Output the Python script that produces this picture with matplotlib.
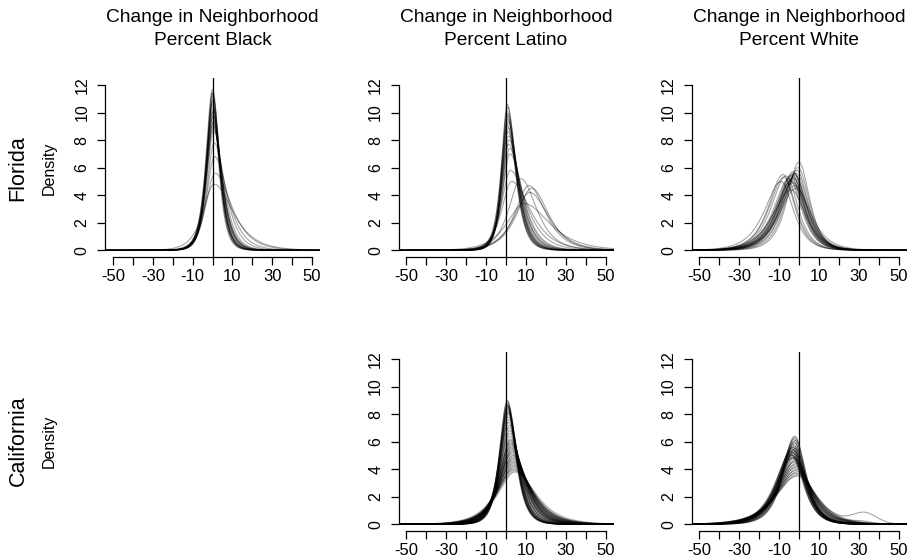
import numpy as np
import matplotlib
matplotlib.use('Agg')
import matplotlib.pyplot as plt

plt.rcParams['font.family'] = ['Liberation Sans', 'DejaVu Sans']

# ---- curve parameters: peak position, peak height, right/left spread ----
fl_black_center = [0.0, 0.2, -0.2, 0.1, 0.3, 0.0, -0.1, 0.2, 0.4, 0.0,
                   0.3, 0.1, 0.5, 0.2, 0.4, 0.6, 0.8, 1.0, 1.2, 0.8]
fl_black_height = [11.7, 11.5, 11.4, 11.2, 11.0, 10.8, 10.6, 10.4, 10.2, 10.0,
                   9.8, 9.6, 9.4, 9.2, 9.0, 8.7, 7.8, 6.8, 5.6, 4.8]
fl_black_skew = [1.1, 1.1, 1.0, 1.2, 1.1, 1.0, 1.2, 1.1, 1.2, 1.1,
                 1.3, 1.2, 1.2, 1.3, 1.3, 1.4, 1.6, 1.7, 1.8, 1.7]

fl_latino_center = [0.6, 0.8, 0.5, 1.0, 0.7, 0.9, 1.1, 0.6, 1.2, 1.0, 1.3,
                    1.5, 1.4, 1.8, 2.0, 2.2, 2.8, 7.5, 11.5, 13.0, 12.0, 9.0]
fl_latino_height = [10.6, 10.4, 10.1, 9.9, 9.7, 9.5, 9.3, 9.1, 8.9, 8.6, 8.3,
                    8.0, 7.7, 7.4, 7.0, 5.8, 5.0, 5.2, 4.7, 4.5, 4.2, 3.4]
fl_latino_skew = [1.5, 1.5, 1.4, 1.6, 1.5, 1.6, 1.5, 1.4, 1.6, 1.5, 1.6,
                  1.7, 1.6, 1.7, 1.7, 1.8, 1.9, 1.3, 1.2, 1.1, 1.2, 1.5]

fl_white_center = [-3.0, -2.5, -3.5, -2.0, -4.0, -3.0, -2.5, -3.5, -4.0, -3.0, -1.5, -2.0,
                   -8.0, -7.5, -6.5, -9.0, 0.0, -0.5, -1.0, -4.0, -2.0, -5.0, -1.5]
fl_white_height = [5.7, 5.6, 5.5, 5.5, 5.4, 5.3, 5.2, 5.1, 5.0, 4.9, 5.6, 5.4,
                   5.5, 5.3, 5.4, 5.0, 6.4, 6.0, 5.8, 4.4, 4.7, 5.2, 4.5]
fl_white_skew = [0.8, 0.85, 0.8, 0.85, 0.75, 0.8, 0.85, 0.8, 0.75, 0.8, 0.9, 0.85,
                 0.8, 0.8, 0.8, 0.75, 0.9, 0.9, 0.85, 0.8, 0.85, 0.8, 0.9]

ca_latino_center = [0.6, 0.8, 0.5, 0.9, 0.7, 1.0, 0.8, 1.1, 0.9, 1.2, 1.0, 1.3, 1.2, 1.5, 1.4,
                    1.7, 1.6, 1.9, 2.0, 2.1, 2.3, 2.2, 2.5, 2.4, 2.6, 2.8, 2.7, 3.0, 2.9, 3.1,
                    3.2, 3.0, 3.4, 3.3, 3.5, 3.6, 3.4, 3.8, 3.7, 4.0, 3.9, 4.2, 4.1, 4.4, 4.6]
ca_latino_height = [9.0, 8.9, 8.8, 8.7, 8.6, 8.6, 8.5, 8.4, 8.3, 8.2, 8.1, 8.0, 7.8, 7.6, 7.4,
                    7.2, 7.0, 6.8, 6.6, 6.4, 6.2, 6.1, 6.0, 5.9, 5.8, 5.7, 5.6, 5.5, 5.4, 5.3,
                    5.2, 5.1, 5.0, 4.9, 4.8, 4.7, 4.6, 4.5, 4.4, 4.3, 4.2, 4.1, 4.0, 3.9, 3.8]
ca_latino_skew = [1.1, 1.2, 1.1, 1.2, 1.1, 1.2, 1.1, 1.0, 1.1, 1.2, 1.0, 1.1, 1.2, 1.1, 1.0,
                  1.1, 1.2, 1.1, 1.0, 1.1, 1.2, 1.1, 1.0, 1.1, 1.2, 1.1, 1.0, 1.1, 1.2, 1.1,
                  1.0, 1.1, 1.2, 1.1, 1.0, 1.1, 1.2, 1.1, 1.0, 1.1, 1.2, 1.1, 1.0, 1.1, 1.2]

ca_white_center = [-2.2, -2.0, -2.5, -1.8, -2.6, -2.2, -3.0, -2.4, -2.8, -3.2, -2.0, -3.5,
                   -2.6, -3.0, -3.8, -2.3, -3.4, -2.8, -4.0, -2.5, -3.2, -3.6, -2.2, -3.0,
                   -2.6, -3.4, -2.0, -1.8, -2.4, -1.6, -2.0, -1.4, -1.8, -1.2, -1.5, -1.0,
                   -1.3, -0.8, -1.0]
ca_white_height = [6.4, 6.3, 6.2, 6.1, 6.0, 5.9, 5.8, 5.7, 5.6, 5.6, 5.5, 5.5,
                   5.4, 5.4, 5.3, 5.3, 5.2, 5.2, 5.1, 5.1, 5.0, 5.0, 4.9, 4.9,
                   4.8, 4.8, 4.7, 4.6, 4.5, 4.4, 4.3, 4.2, 4.1, 4.0, 3.9, 3.8,
                   3.7, 3.6, 3.5]
ca_white_skew = [0.85, 0.9, 0.85, 0.9, 0.8, 0.85, 0.8, 0.85, 0.8, 0.75, 0.9, 0.75,
                 0.85, 0.8, 0.75, 0.85, 0.8, 0.85, 0.75, 0.85, 0.8, 0.8, 0.9, 0.8,
                 0.85, 0.8, 0.9, 0.9, 0.85, 0.9, 0.85, 0.9, 0.85, 0.9, 0.85, 0.9,
                 0.85, 0.9, 0.9]
# second mode on a few California white curves: curve index, mode position, mode height
ca_white_bump_idx = [37, 30]
ca_white_bump_center = [33.0, 30.0]
ca_white_bump_height = [0.75, 0.2]

col_titles = ['Percent Black', 'Percent Latino', 'Percent White']
row_titles = ['Florida', 'California']
x_ticks = list(range(-50, 51, 10))
x_labeled = [-50, -30, -10, 10, 30, 50]
y_ticks = list(range(0, 13, 2))

W, H = 909, 560
XL = 54.0
x = np.linspace(-XL, XL, 1200)

zz = np.linspace(-60, 60, 20001)
SECH_AREA = np.trapezoid(1 / np.cosh(zz), zz)


def curve(c, h, k):
    # kernel density-like shape with area 100 (density per proportion, x in percent)
    s = 100.0 / (h * SECH_AREA)
    sl = s * 2 / (1 + k)
    sr = s * 2 * k / (1 + k)
    z = np.where(x < c, (x - c) / sl, (x - c) / sr)
    return h / np.cosh(z)


def make_ax(left_px, top_px):
    ax = fig.add_axes([left_px / W, 1 - (top_px + 178.5) / H, 215 / W, 178.5 / H])
    ax.set_xlim(-XL, XL)
    ax.set_ylim(-0.48, 12.48)
    for sp in ['top', 'right']:
        ax.spines[sp].set_visible(False)
    ax.spines['left'].set_bounds(0, 12)
    ax.spines['bottom'].set_bounds(-50, 50)
    for sp in ['left', 'bottom']:
        ax.spines[sp].set_linewidth(0.9)
    ax.set_xticks(x_ticks)
    ax.set_xticklabels([str(v) if v in x_labeled else '' for v in x_ticks])
    ax.set_yticks(y_ticks)
    ax.set_yticklabels([str(v) for v in y_ticks], rotation=90, va='center')
    ax.tick_params(axis='x', length=6, width=0.9, pad=3, labelsize=12)
    ax.tick_params(axis='y', length=6, width=0.9, pad=5, labelsize=11.5)
    ax.axvline(0, color='black', lw=0.9, zorder=5)
    return ax


def draw(ax, centers, heights, skews, bumps=None):
    for i, (c, h, k) in enumerate(zip(centers, heights, skews)):
        y = curve(c, h, k)
        if bumps:
            for bi, bc, bh in zip(*bumps):
                if bi == i:
                    y = y + bh * np.exp(-0.5 * ((x - bc) / 6.0) ** 2)
        ax.plot(x, y, color='black', alpha=0.35, lw=0.8)


fig = plt.figure(figsize=(W / 100, H / 100), dpi=100)

lefts = [105, 398.5, 691.5]
tops = [78.4, 352.4]

ax1 = make_ax(lefts[0], tops[0])
draw(ax1, fl_black_center, fl_black_height, fl_black_skew)
ax2 = make_ax(lefts[1], tops[0])
draw(ax2, fl_latino_center, fl_latino_height, fl_latino_skew)
ax3 = make_ax(lefts[2], tops[0])
draw(ax3, fl_white_center, fl_white_height, fl_white_skew)
ax5 = make_ax(lefts[1], tops[1])
draw(ax5, ca_latino_center, ca_latino_height, ca_latino_skew)
ax6 = make_ax(lefts[2], tops[1])
draw(ax6, ca_white_center, ca_white_height, ca_white_skew,
     bumps=(ca_white_bump_idx, ca_white_bump_center, ca_white_bump_height))

# column headers
for cx, t in zip([212.5, 506, 799], col_titles):
    fig.text(cx / W, 1 - 22 / H, 'Change in Neighborhood', ha='center', va='baseline', fontsize=13.8)
    fig.text(cx / W, 1 - 45 / H, t, ha='center', va='baseline', fontsize=13.8)

# row labels
for cy, t in zip([168, 441], row_titles):
    fig.text(18 / W, 1 - cy / H, t, rotation=90, ha='center', va='center', fontsize=15.5)
    fig.text(49 / W, 1 - cy / H, 'Density', rotation=90, ha='center', va='center', fontsize=11.5)

fig.savefig('out.png', dpi=100, facecolor='white')
